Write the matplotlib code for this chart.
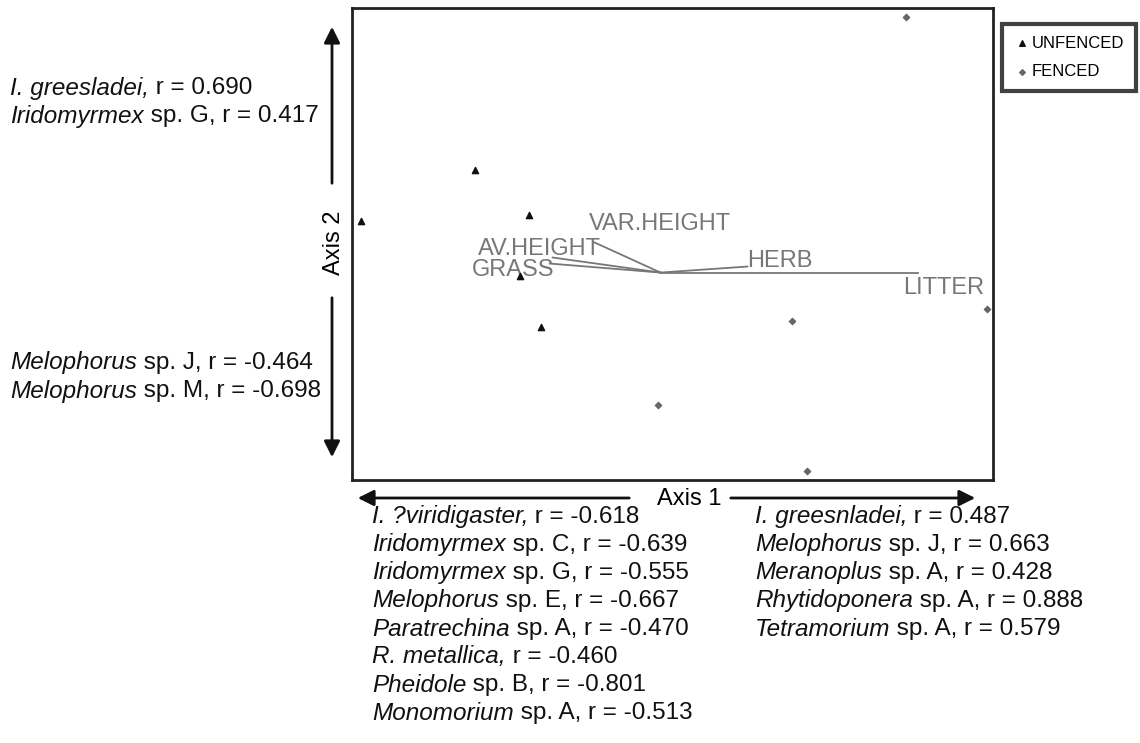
import matplotlib
matplotlib.use("Agg")
import matplotlib.pyplot as plt
from matplotlib.patches import FancyArrowPatch

plt.rcParams['font.family'] = ['Liberation Sans', 'DejaVu Sans']

# site scores on the first two ordination axes
unfenced_x = [-0.62, -0.44, -1.00, -0.47, -0.40]
unfenced_y = [0.34, 0.19, 0.17, -0.01, -0.18]
fenced_x = [0.82, 1.09, 0.44, -0.01, 0.49]
fenced_y = [0.85, -0.12, -0.16, -0.44, -0.66]

# habitat vectors
vec_names = ['LITTER', 'HERB', 'VAR.HEIGHT', 'AV.HEIGHT', 'GRASS']
vec_x = [0.86, 0.29, -0.22, -0.36, -0.37]
vec_y = [0.00, 0.02, 0.10, 0.05, 0.03]

# species correlated with each axis direction (genus, remainder)
axis2_pos = [("I. greesladei,", " r = 0.690"), ("Iridomyrmex", " sp. G, r = 0.417")]
axis2_neg = [("Melophorus", " sp. J, r = -0.464"), ("Melophorus", " sp. M, r = -0.698")]
axis1_neg = [("I. ?viridigaster,", " r = -0.618"), ("Iridomyrmex", " sp. C, r = -0.639"),
             ("Iridomyrmex", " sp. G, r = -0.555"), ("Melophorus", " sp. E, r = -0.667"),
             ("Paratrechina", " sp. A, r = -0.470"), ("R. metallica,", " r = -0.460"),
             ("Pheidole", " sp. B, r = -0.801"), ("Monomorium", " sp. A, r = -0.513")]
axis1_pos = [("I. greesnladei,", " r = 0.487"), ("Melophorus", " sp. J, r = 0.663"),
             ("Meranoplus", " sp. A, r = 0.428"), ("Rhytidoponera", " sp. A, r = 0.888"),
             ("Tetramorium", " sp. A, r = 0.579")]

W, H = 1140, 743
fig = plt.figure(figsize=(W / 100, H / 100), dpi=100)
ax = fig.add_axes([352 / W, 1 - 480 / H, (993 - 352) / W, (480 - 8) / H])
ax.set_xlim(-1.03, 1.11)
ax.set_ylim(-0.69, 0.88)
ax.set_xticks([])
ax.set_yticks([])
for s in ax.spines.values():
    s.set_linewidth(2)
    s.set_color('#222222')

ax.scatter(unfenced_x, unfenced_y, marker='^', s=20, color='#111111', label='UNFENCED', zorder=3)
ax.scatter(fenced_x, fenced_y, marker='D', s=10, color='#666666', label='FENCED', zorder=3)

# vectors from the centroid
label_pos = {'LITTER': (1.08, -0.05, 'right'), 'HERB': (0.29, 0.04, 'left'),
             'VAR.HEIGHT': (-0.24, 0.16, 'left'), 'AV.HEIGHT': (-0.61, 0.08, 'left'),
             'GRASS': (-0.63, 0.01, 'left')}
for name, vx, vy in zip(vec_names, vec_x, vec_y):
    ax.plot([0, vx], [0, vy], color='#777777', lw=1.3, zorder=2)
    tx, ty, ha = label_pos[name]
    ax.text(tx, ty, name, color='#777777', fontsize=17, ha=ha, va='center', zorder=2)

leg = ax.legend(loc='upper left', bbox_to_anchor=(1002 / W, 1 - 24 / H),
                bbox_transform=fig.transFigure, frameon=True, fancybox=False,
                fontsize=12, handletextpad=0.1, markerscale=0.9, borderpad=0.7,
                labelspacing=0.8, handlelength=1.0, borderaxespad=0)
leg.get_frame().set_edgecolor('#111111')
leg.get_frame().set_linewidth(3)


def fx(px):
    return px / W


def fy(py):
    return 1 - py / H


def arrow(x0, y0, x1, y1):
    fig.add_artist(FancyArrowPatch(
        (fx(x0), fy(y0)), (fx(x1), fy(y1)), transform=fig.transFigure,
        arrowstyle='-|>', mutation_scale=24, lw=2, color='#111111'))


# axis direction arrows
arrow(332, 186, 332, 24)
arrow(332, 295, 332, 460)
arrow(632, 498, 355, 498)
arrow(728, 498, 978, 498)
fig.text(fx(334), fy(243), 'Axis 2', rotation=90, fontsize=17, ha='center', va='center')
fig.text(fx(689), fy(499), 'Axis 1', fontsize=17, ha='center', va='center')

renderer = fig.canvas.get_renderer()


def species_line(x, y, genus, rest):
    t = fig.text(fx(x), fy(y), genus, fontsize=17.5, style='italic',
                 ha='left', va='center', color='#111111')
    bb = t.get_window_extent(renderer)
    fig.text(bb.x1 / W, fy(y), rest, fontsize=17.5, ha='left', va='center', color='#111111')


for i, (g, r) in enumerate(axis2_pos):
    species_line(10, 88 + 28 * i, g, r)
for i, (g, r) in enumerate(axis2_neg):
    species_line(10, 363 + 28 * i, g, r)
for i, (g, r) in enumerate(axis1_neg):
    species_line(372, 517 + 28 * i, g, r)
for i, (g, r) in enumerate(axis1_pos):
    species_line(755, 517 + 28 * i, g, r)

fig.savefig('out.png', dpi=100)
